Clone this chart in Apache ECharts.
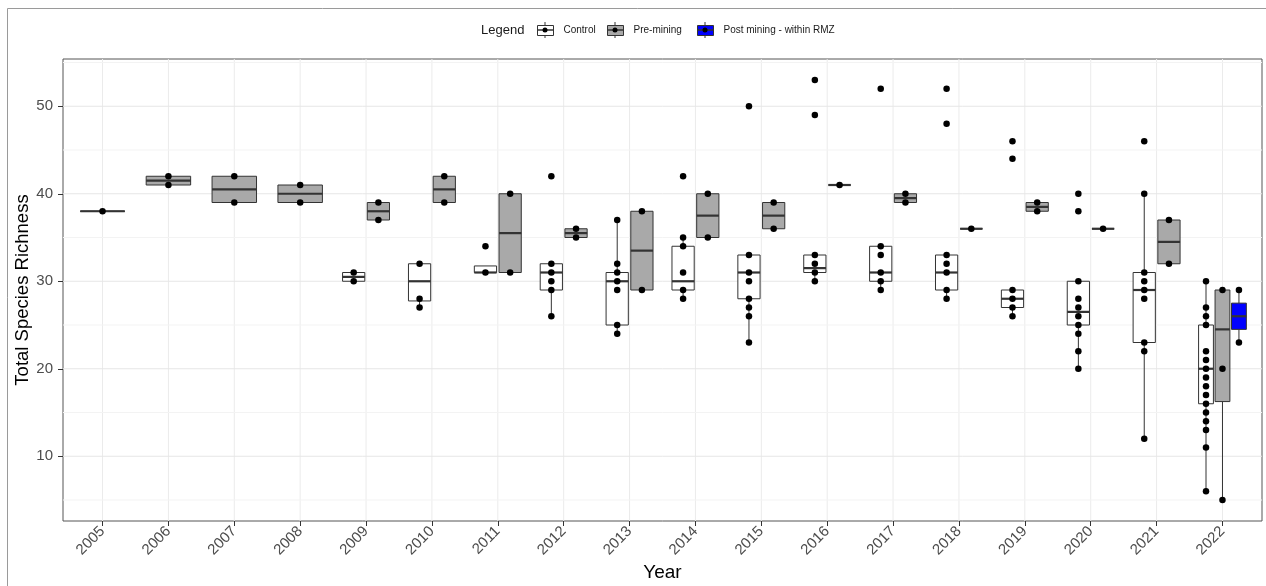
<!DOCTYPE html>
<html><head><meta charset="utf-8">
<script src="https://cdn.jsdelivr.net/npm/echarts@6/dist/echarts.min.js"></script>
<style>html,body{margin:0;padding:0;background:#fff}#c{width:1266px;height:586px}</style>
</head><body><div id="c"></div>
<script>
const years = ['2005','2006','2007','2008','2009','2010','2011','2012','2013','2014','2015','2016','2017','2018','2019','2020','2021','2022'];
const yTicks = [10, 20, 30, 40, 50];
const yMinor = [5, 15, 25, 35, 45, 55];
const groupNames = ['Control', 'Pre-mining', 'Post mining - within RMZ'];

// box statistics per year: [lower whisker, Q1, median, Q3, upper whisker]; null = group absent
const controlBox = [
  null, null, null, null,
  [30, 30, 30.5, 31, 31],
  [27, 27.75, 30, 32, 32],
  [31, 31, 31, 31.75, 31.75],
  [26, 29, 31, 32, 32],
  [24, 25, 30, 31, 37],
  [28, 29, 30, 34, 35],
  [23, 28, 31, 33, 33],
  [30, 31, 31.5, 33, 33],
  [29, 30, 31, 34, 34],
  [28, 29, 31, 33, 33],
  [26, 27, 28, 29, 29],
  [20, 25, 26.5, 30, 30],
  [12, 23, 29, 31, 40],
  [6, 16, 20, 25, 30]
];
const preBox = [
  [38, 38, 38, 38, 38],
  [41, 41, 41.5, 42, 42],
  [39, 39, 40.5, 42, 42],
  [39, 39, 40, 41, 41],
  [37, 37, 38, 39, 39],
  [39, 39, 40.5, 42, 42],
  [31, 31, 35.5, 40, 40],
  [35, 35, 35.5, 36, 36],
  [29, 29, 33.5, 38, 38],
  [35, 35, 37.5, 40, 40],
  [36, 36, 37.5, 39, 39],
  [41, 41, 41, 41, 41],
  [39, 39, 39.5, 40, 40],
  [36, 36, 36, 36, 36],
  [38, 38, 38.5, 39, 39],
  [36, 36, 36, 36, 36],
  [32, 32, 34.5, 37, 37],
  [5, 16.25, 24.5, 29, 29]
];
const postBox = [
  null, null, null, null, null, null, null, null, null, null, null, null, null, null, null, null, null,
  [23, 24.5, 26, 27.5, 29]
];

// observed site values per year
const controlPts = [
  [], [], [], [],
  [30, 31],
  [27, 28, 32],
  [31, 34],
  [26, 29, 30, 31, 32, 42],
  [24, 25, 29, 30, 31, 32, 37],
  [28, 29, 31, 34, 35, 42],
  [23, 26, 27, 28, 30, 31, 33, 50],
  [30, 31, 32, 33, 49, 53],
  [29, 30, 31, 33, 34, 52],
  [28, 29, 31, 32, 33, 48, 52],
  [26, 27, 28, 29, 44, 46],
  [20, 22, 24, 25, 26, 27, 28, 30, 38, 40],
  [12, 22, 23, 28, 29, 30, 31, 40, 46],
  [6, 11, 13, 14, 15, 16, 17, 18, 19, 20, 21, 22, 25, 26, 27, 30]
];
const prePts = [
  [38], [41, 42], [39, 42], [39, 41], [37, 39], [39, 42], [31, 40], [35, 36], [29, 38],
  [35, 40], [36, 39], [41], [39, 40], [36], [38, 39], [36], [32, 37], [5, 20, 29]
];
const postPts = [
  [], [], [], [], [], [], [], [], [], [], [], [], [], [], [], [], [],
  [23, 29]
];

const boxes = [controlBox, preBox, postBox];
const pts = [controlPts, prePts, postPts];
const fills = ['#ffffff', '#a9a9a9', '#0000ff'];
const ink = '#333333';
const FONT = '"Liberation Sans", Arial, sans-serif';

// dodge layout (ggplot position_dodge2, width .75, padding .1)
function dodge(gi, yi) {
  const present = [];
  boxes.forEach((b, k) => { if (b[yi]) present.push(k); });
  const n = present.length, k = present.indexOf(gi);
  return { center: yi - 0.375 + 0.75 * (k + 0.5) / n, width: 0.75 / n * 0.9 };
}

function renderBox(fill) {
  return function (params, api) {
    const x = api.value(0), w = api.value(6);
    const lo = api.coord([x, api.value(1)]);
    const q1 = api.coord([x, api.value(2)]);
    const md = api.coord([x, api.value(3)]);
    const q3 = api.coord([x, api.value(4)]);
    const hi = api.coord([x, api.value(5)]);
    const half = api.size([w, 0])[0] / 2;
    const cx = lo[0];
    return { type: 'group', children: [
      { type: 'line', shape: { x1: cx, y1: hi[1], x2: cx, y2: q3[1] }, style: { stroke: ink, lineWidth: 1 } },
      { type: 'line', shape: { x1: cx, y1: q1[1], x2: cx, y2: lo[1] }, style: { stroke: ink, lineWidth: 1 } },
      { type: 'rect', shape: { x: cx - half, y: q3[1], width: 2 * half, height: q1[1] - q3[1] }, style: { fill: fill, stroke: ink, lineWidth: 1 } },
      { type: 'line', shape: { x1: cx - half, y1: md[1], x2: cx + half, y2: md[1] }, style: { stroke: ink, lineWidth: 2.2 } }
    ]};
  };
}

const series = [];
// grid lines
series.push({
  type: 'custom', name: 'vgrid', silent: true, z: 0,
  data: years.map((y, i) => [i]), encode: { x: 0 },
  renderItem: (params, api) => {
    const p = api.coord([api.value(0), 30]);
    const cs = params.coordSys;
    return { type: 'line', shape: { x1: p[0], y1: cs.y, x2: p[0], y2: cs.y + cs.height }, style: { stroke: '#ebebeb', lineWidth: 1 } };
  }
});
series.push({
  type: 'custom', name: 'hgrid', silent: true, z: 0,
  data: yTicks.map(v => [0, v, 1]).concat(yMinor.map(v => [0, v, 0])), encode: { x: 0, y: 1 },
  renderItem: (params, api) => {
    const p = api.coord([0, api.value(1)]);
    const cs = params.coordSys;
    const major = api.value(2) === 1;
    return { type: 'line', shape: { x1: cs.x, y1: p[1], x2: cs.x + cs.width, y2: p[1] }, style: { stroke: major ? '#e6e6e6' : '#f3f3f3', lineWidth: 1 } };
  }
});
groupNames.forEach((name, gi) => {
  const data = [];
  boxes[gi].forEach((b, yi) => {
    if (!b) return;
    const d = dodge(gi, yi);
    data.push([d.center, b[0], b[1], b[2], b[3], b[4], d.width]);
  });
  series.push({
    type: 'custom', name: name, z: 2,
    itemStyle: { color: fills[gi], borderColor: ink },
    encode: { x: 0, y: [1, 2, 3, 4, 5] },
    data: data, renderItem: renderBox(fills[gi])
  });
});
groupNames.forEach((name, gi) => {
  const data = [];
  pts[gi].forEach((arr, yi) => {
    if (!boxes[gi][yi]) return;
    const d = dodge(gi, yi);
    arr.forEach(v => data.push([d.center, v]));
  });
  series.push({
    type: 'scatter', name: name + ' points', z: 5,
    symbol: 'circle', symbolSize: 6.5,
    itemStyle: { color: '#000000', opacity: 1 },
    data: data
  });
});

// legend: one ECharts legend per key, with boxplot glyph overlays
const legendLefts = [537, 607, 697];
const legendTop = 25, keyW = 16, keyH = 10;
const legends = groupNames.map((name, gi) => ({
  left: legendLefts[gi], top: legendTop, padding: 0, orient: 'horizontal',
  itemWidth: keyW, itemHeight: keyH, selectedMode: false,
  icon: 'rect',
  textStyle: { fontSize: 10, color: '#1a1a1a', fontFamily: FONT, padding: [0, 0, 0, 5] },
  data: [{ name: name, itemStyle: { color: fills[gi], borderColor: ink, borderWidth: 1 } }]
}));
const graphics = [
  { type: 'rect', shape: { x: 7.5, y: 8.5, width: 1270, height: 600 }, style: { fill: 'none', stroke: '#9a9a9a', lineWidth: 1 }, z: -1, silent: true },
  { type: 'text', x: 481, y: 30, style: { text: 'Legend', fontSize: 13, fill: '#1a1a1a', fontFamily: FONT, verticalAlign: 'middle', align: 'left' }, silent: true }
];
legendLefts.forEach(l => {
  const cx = l + keyW / 2, cy = legendTop + keyH / 2;
  graphics.push({ type: 'line', shape: { x1: cx, y1: cy - keyH / 2 - 3, x2: cx, y2: cy - keyH / 2 }, style: { stroke: ink, lineWidth: 1 }, z: 100, silent: true });
  graphics.push({ type: 'line', shape: { x1: cx, y1: cy + keyH / 2, x2: cx, y2: cy + keyH / 2 + 3 }, style: { stroke: ink, lineWidth: 1 }, z: 100, silent: true });
  graphics.push({ type: 'line', shape: { x1: l, y1: cy, x2: l + keyW, y2: cy }, style: { stroke: ink, lineWidth: 1.5 }, z: 100, silent: true });
  graphics.push({ type: 'circle', shape: { cx: cx, cy: cy, r: 2.5 }, style: { fill: '#000' }, z: 101, silent: true });
});

const chart = echarts.init(document.getElementById('c'), null, { renderer: 'canvas' });
chart.setOption({
  backgroundColor: '#ffffff',
  animation: false,
  textStyle: { fontFamily: FONT },
  grid: { left: 63, top: 59, width: 1199, height: 462, show: true, borderColor: '#555555', borderWidth: 1,
    backgroundColor: 'transparent', containLabel: false, outerBoundsMode: 'none' },
  legend: legends,
  graphic: graphics,
  xAxis: {
    type: 'value', min: -0.6, max: 17.6,
    name: 'Year', nameLocation: 'middle', nameGap: 42, nameMoveOverlap: false,
    nameTextStyle: { fontSize: 19, color: '#000', fontFamily: FONT },
    axisLine: { show: false, onZero: false },
    axisTick: { show: true, length: 5, lineStyle: { color: ink }, customValues: years.map((y, i) => i) },
    axisLabel: { rotate: 45, fontSize: 15, color: '#4d4d4d', margin: 8, fontFamily: FONT,
      customValues: years.map((y, i) => i), formatter: v => years[Math.round(v)] },
    splitLine: { show: false }
  },
  yAxis: {
    type: 'value', min: 2.6, max: 55.4,
    name: 'Total Species Richness', nameLocation: 'middle', nameGap: 31, nameMoveOverlap: false,
    nameTextStyle: { fontSize: 18.5, color: '#000', fontFamily: FONT },
    axisLine: { show: false, onZero: false },
    axisTick: { show: true, length: 5, lineStyle: { color: ink }, customValues: yTicks },
    axisLabel: { fontSize: 15, color: '#4d4d4d', margin: 10, fontFamily: FONT, customValues: yTicks },
    splitLine: { show: false }
  },
  series: series
});
</script>
</body></html>
